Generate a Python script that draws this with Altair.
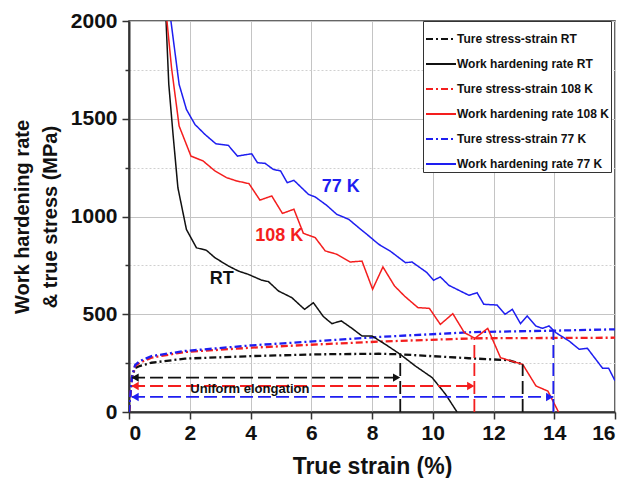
import altair as alt
import pandas as pd

FONT = "Arial"

# ---------------- data ----------------
series_names = [
    "Ture stress-strain RT",
    "Work hardening rate RT",
    "Ture stress-strain 108 K",
    "Work hardening rate 108 K",
    "Ture stress-strain 77 K",
    "Work hardening rate 77 K",
]

# true stress-strain curves
ss_rt_x = [0, 0.05, 0.1, 0.2, 0.35, 0.74, 1.84, 4.04, 6.24, 8.22, 8.93, 11.19, 12.5, 12.96]
ss_rt_y = [0, 100, 180, 225, 235, 252, 273, 286, 295, 298, 295, 275, 265, 244]
ss_108_x = [0, 0.05, 0.1, 0.2, 0.35, 0.74, 1.84, 4.04, 6.24, 8.22, 11.37, 16.0]
ss_108_y = [0, 100, 180, 235, 252, 278, 307, 329, 346, 360, 377, 380]
ss_77_x = [0, 0.05, 0.1, 0.2, 0.35, 0.74, 1.84, 4.04, 6.24, 8.22, 11.37, 13.97, 16.0]
ss_77_y = [0, 100, 180, 240, 260, 286, 312, 341, 363, 384, 409, 416, 423]

# work hardening rate curves
wh_rt_x = [1.22, 1.31, 1.45, 1.61, 1.89, 2.22, 2.55, 2.83, 3.27, 3.60, 3.93, 4.37, 4.59,
           4.92, 5.36, 5.78, 6.07, 6.40, 6.68, 6.99, 7.34, 7.67, 8.00, 8.44, 8.93, 9.43,
           9.98, 10.42, 10.80]
wh_rt_y = [2000, 1676, 1420, 1147, 934, 840, 827, 789, 747, 721, 704, 674, 667,
           619, 585, 525, 559, 488, 452, 466, 428, 389, 389, 346, 295, 235,
           176, 91, 0]
wh_108_x = [1.25, 1.40, 1.65, 2.04, 2.44, 2.83, 3.21, 3.54, 3.95, 4.31, 4.70, 5.05, 5.43,
            5.74, 6.13, 6.46, 6.84, 7.28, 7.67, 8.02, 8.36, 8.74, 9.07, 9.51, 9.89, 10.25,
            10.66, 11.04, 11.39, 11.81, 12.23, 12.58, 12.96, 13.40, 13.79, 14.14]
wh_108_y = [2000, 1761, 1463, 1309, 1284, 1233, 1199, 1182, 1168, 1084, 1105, 1016, 1037,
            914, 892, 824, 807, 767, 772, 628, 742, 645, 593, 534, 530, 448,
            503, 406, 377, 428, 278, 261, 244, 133, 107, 0]
wh_77_x = [1.38, 1.65, 1.89, 2.17, 2.50, 2.86, 3.27, 3.57, 4.04, 4.23, 4.48, 4.75, 4.99,
           5.21, 5.43, 5.91, 6.13, 6.51, 6.84, 7.23, 7.56, 7.83, 8.22, 8.60, 9.10, 9.32,
           9.81, 10.03, 10.25, 10.53, 11.19, 11.46, 11.68, 12.12, 12.38, 12.62, 12.89,
           13.11, 13.39, 13.61, 13.83, 14.05, 14.49, 14.82, 15.09, 15.59, 15.79, 16.0]
wh_77_y = [2000, 1676, 1548, 1471, 1420, 1372, 1364, 1309, 1321, 1275, 1272, 1241, 1233,
           1173, 1185, 1113, 1100, 1057, 1011, 986, 943, 909, 858, 823, 764, 767,
           713, 674, 691, 648, 597, 610, 551, 547, 500, 525, 452,
           491, 440, 428, 440, 406, 363, 321, 326, 224, 224, 160]

# uniform elongation markers (vertical dashed lines)
vline_series = ["Ture stress-strain RT", "Ture stress-strain RT",
                "Ture stress-strain 108 K", "Ture stress-strain 77 K"]
vline_x = [8.93, 12.96, 11.37, 13.97]
vline_top = [295, 244, 377, 416]

# uniform elongation arrows (horizontal)
arrow_series = ["Ture stress-strain RT", "Ture stress-strain 108 K", "Ture stress-strain 77 K"]
arrow_start = [0.1, 0.1, 0.1]
arrow_end = [8.93, 11.37, 13.97]
arrow_y = [176, 133, 77]

# annotations
ann_text = ["77 K", "108 K", "RT", "Uniform elongation"]
ann_x = [6.97, 4.95, 3.05, 3.98]
ann_y = [1150, 900, 680, 120]

# ---------------- build tables ----------------
rows = []
for kind, name, xs, ys in [
    ("ss", series_names[0], ss_rt_x, ss_rt_y),
    ("wh", series_names[1], wh_rt_x, wh_rt_y),
    ("ss", series_names[2], ss_108_x, ss_108_y),
    ("wh", series_names[3], wh_108_x, wh_108_y),
    ("ss", series_names[4], ss_77_x, ss_77_y),
    ("wh", series_names[5], wh_77_x, wh_77_y),
]:
    for i, (a, b) in enumerate(zip(xs, ys)):
        rows.append({"kind": kind, "series": name, "strain": a, "value": b, "order": i})
curves = pd.DataFrame(rows)

vlines = pd.DataFrame({"series": vline_series, "strain": vline_x,
                       "top": vline_top, "bottom": [0] * len(vline_x)})
arrows = pd.DataFrame({"series": arrow_series, "start": arrow_start,
                       "end": arrow_end, "value": arrow_y})
heads = pd.DataFrame({
    "series": arrow_series * 2,
    "strain": [s + 0.1 for s in arrow_start] + [e - 0.12 for e in arrow_end],
    "value": arrow_y * 2,
    "dir": ["left"] * 3 + ["right"] * 3,
})
ann = pd.DataFrame({"label": ann_text, "strain": ann_x, "value": ann_y})

colors = ["#111111", "#111111", "#f41e1e", "#f41e1e", "#1e1ef0", "#1e1ef0"]
dashes = [[7, 3, 2, 3], [1, 0], [7, 3, 2, 3], [1, 0], [7, 3, 2, 3], [1, 0]]

xscale = alt.Scale(domain=[0, 16], nice=False, zero=False)
yscale = alt.Scale(domain=[0, 2000], nice=False)
cscale = alt.Scale(domain=series_names, range=colors)
dscale = alt.Scale(domain=series_names, range=dashes)

minor_x = "datum.value % 2 === 1"
minor_y = "datum.value % 500 !== 0"

x_axis = alt.Axis(
    title="True strain (%)",
    values=list(range(0, 17)),
    labelExpr="datum.value % 2 === 0 ? datum.label : ''",
    tickSize={"condition": {"test": minor_x, "value": 4}, "value": 7},
    gridDash={"condition": {"test": minor_x, "value": [2, 2]}, "value": []},
    gridColor={"condition": {"test": minor_x, "value": "#d0d0d0"}, "value": "#c4c4c4"},
    labelPadding=3,
    titlePadding=12,
)
y_axis = alt.Axis(
    title=["Work hardening rate", "& true stress (MPa)"],
    values=list(range(0, 2001, 250)),
    format="d",
    labelExpr="datum.value % 500 === 0 ? datum.label : ''",
    tickSize={"condition": {"test": minor_y, "value": 4}, "value": 7},
    gridDash={"condition": {"test": minor_y, "value": [2, 2]}, "value": []},
    gridColor={"condition": {"test": minor_y, "value": "#d0d0d0"}, "value": "#c4c4c4"},
    labelPadding=5,
    titlePadding=10,
)

legend = alt.Legend(title=None, symbolType="stroke")

def curve_layer(kind, width):
    return alt.Chart(curves).transform_filter(
        alt.datum.kind == kind
    ).mark_line(clip=True, strokeWidth=width).encode(
        x=alt.X("strain:Q", scale=xscale, axis=x_axis),
        y=alt.Y("value:Q", scale=yscale, axis=y_axis),
        color=alt.Color("series:N", scale=cscale, sort=series_names, legend=legend),
        strokeDash=alt.StrokeDash("series:N", sort=series_names, scale=dscale,
                                  legend=legend),
        detail="series:N",
        order="order:Q",
    )

ss_lines = curve_layer("ss", 2.3)
wh_lines = curve_layer("wh", 1.5)

vrules = alt.Chart(vlines).mark_rule(strokeDash=[13, 5], strokeWidth=1.8).encode(
    x="strain:Q", y="bottom:Q", y2="top:Q",
    color=alt.Color("series:N", scale=cscale),
)
hrules = alt.Chart(arrows).mark_rule(strokeDash=[13, 5], strokeWidth=1.8).encode(
    x="start:Q", x2="end:Q", y="value:Q",
    color=alt.Color("series:N", scale=cscale),
)
arrowheads = alt.Chart(heads).mark_point(filled=True, size=70, opacity=1).encode(
    x="strain:Q", y="value:Q",
    color=alt.Color("series:N", scale=cscale),
    shape=alt.Shape("dir:N", scale=alt.Scale(domain=["left", "right"],
                                             range=["triangle-left", "triangle-right"]),
                    legend=None),
)

def label_layer(idx, color, size):
    return alt.Chart(ann).transform_filter(
        alt.datum.label == ann_text[idx]
    ).mark_text(font=FONT, fontWeight="bold", fontSize=size, color=color).encode(
        x="strain:Q", y="value:Q", text="label:N"
    )

texts = [
    label_layer(0, "#1e1ef0", 18),
    label_layer(1, "#f41e1e", 18),
    label_layer(2, "#111111", 18),
    label_layer(3, "#111111", 13),
]

chart = alt.layer(ss_lines, wh_lines, vrules, hrules, arrowheads, *texts).properties(
    width=486, height=391, padding={"left": 4, "top": 2, "right": 5, "bottom": 0}
).configure_view(
    stroke="#333333", strokeWidth=1.5
).configure_axis(
    labelFont=FONT, labelFontSize=21, labelFontWeight="bold", labelColor="#111111",
    titleFont=FONT, titleFontSize=22, titleFontWeight="bold", titleColor="#111111",
    domainColor="#333333", domainWidth=2, tickColor="#333333", tickWidth=1.5,
    gridWidth=1,
).configure_axisY(
    titleFontSize=20, titleLineHeight=28,
).configure_axisX(
    titleFontSize=23,
).configure_legend(
    orient="none", legendX=294, legendY=0,
    strokeColor="#333333", fillColor="white", padding=2,
    labelFont=FONT, labelFontSize=12, labelFontWeight="bold", labelColor="#111111",
    symbolSize=900, symbolStrokeWidth=2, labelOffset=0, rowPadding=3,
    labelLimit=300,
)

chart.save("out.html", embed_options={"renderer": "svg", "actions": False})
